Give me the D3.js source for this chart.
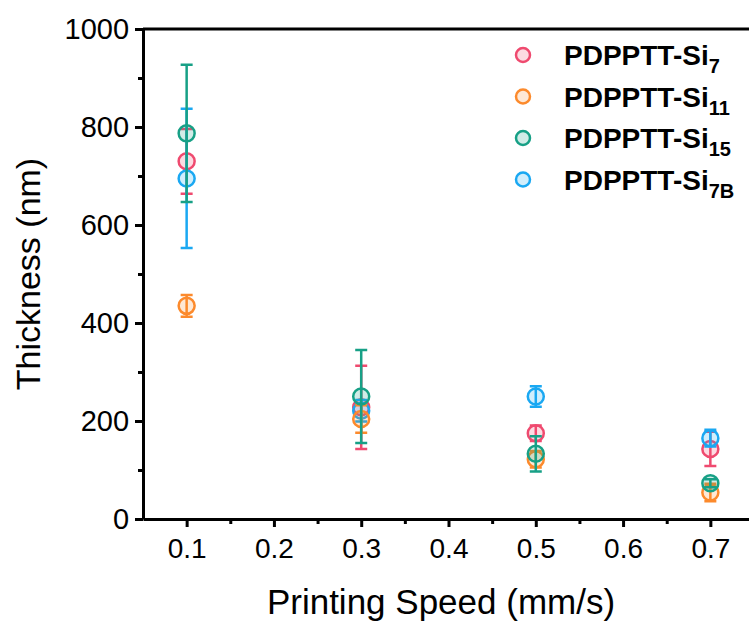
<!DOCTYPE html>
<html>
<head>
<meta charset="utf-8">
<script src="https://cdn.jsdelivr.net/npm/d3@7"></script>
<style>
  body { margin: 0; background: #fff; }
  svg { display: block; }
  text { font-family: "Liberation Sans", Arial, sans-serif; }
</style>
</head>
<body>
<div id="container"></div>
<script>
var speeds = [0.1, 0.3, 0.5, 0.7];
var si7 = [730, 228, 175, 143],  si7Err = [66, 85, 16, 35];
var si11 = [435, 204, 122, 54],  si11Err = [22, 28, 17, 18];
var si15 = [787, 250, 133, 73],  si15Err = [140, 95, 36, 8];
var si7B = [695, 221, 250, 165], si7BErr = [142, 22, 21, 17];
var yTicks = [0, 200, 400, 600, 800, 1000];
var xTicks = [0.1, 0.2, 0.3, 0.4, 0.5, 0.6, 0.7];

var series = [
  {name: 'PDPPTT-Si', sub: '7',  vals: si7,  err: si7Err,  color: '#ef4a6f'},
  {name: 'PDPPTT-Si', sub: '11', vals: si11, err: si11Err, color: '#fc8a2c'},
  {name: 'PDPPTT-Si', sub: '15', vals: si15, err: si15Err, color: '#17a086'},
  {name: 'PDPPTT-Si', sub: '7B', vals: si7B, err: si7BErr, color: '#1aa8f2'}
];
var drawOrder = [0, 3, 1, 2];

var W = 749, H = 626,
    margin = {top: 29, left: 143, bottom: 107};

var svg = d3.select('#container').append('svg')
    .attr('width', W).attr('height', H);

var x = d3.scaleLinear().domain([0.05, 0.75]).range([margin.left, margin.left + 611]);
var y = d3.scaleLinear().domain([0, 1000]).range([H - margin.bottom, margin.top]);

/* axes */
var xAxis = svg.append('g').attr('transform', `translate(0,${y(0)})`)
    .call(d3.axisBottom(x).tickValues(xTicks).tickFormat(d3.format('.1f')).tickSize(8).tickSizeOuter(0));
svg.append('g').attr('transform', `translate(0,${y(0)})`)
    .call(d3.axisBottom(x).tickValues(d3.range(0.15, 0.75, 0.1)).tickFormat('').tickSize(5).tickSizeOuter(0))
    .select('.domain').remove();
var yAxis = svg.append('g').attr('transform', `translate(${x(0.05)},0)`)
    .call(d3.axisLeft(y).tickValues(yTicks).tickFormat(d3.format('d')).tickSize(8).tickSizeOuter(0));
svg.append('g').attr('transform', `translate(${x(0.05)},0)`)
    .call(d3.axisLeft(y).tickValues(d3.range(100, 1000, 200)).tickFormat('').tickSize(5).tickSizeOuter(0))
    .select('.domain').remove();
svg.selectAll('.domain, .tick line').attr('stroke', '#000').attr('stroke-width', 3);
xAxis.selectAll('text').attr('font-size', 28).attr('dy', '1.0em').attr('fill', '#000');
yAxis.selectAll('text').attr('font-size', 29).attr('dx', '-0.1em').attr('fill', '#000');

// top frame line
svg.append('line')
    .attr('x1', x(0.05)).attr('x2', W).attr('y1', y(1000)).attr('y2', y(1000))
    .attr('stroke', '#000').attr('stroke-width', 3);

/* axis titles */
svg.append('text')
    .attr('x', 441).attr('y', 614).attr('text-anchor', 'middle')
    .attr('font-size', 35).text('Printing Speed (mm/s)');
svg.append('text')
    .attr('transform', `translate(40,${(y(0) + y(1000)) / 2}) rotate(-90)`)
    .attr('text-anchor', 'middle').attr('font-size', 34).text('Thickness (nm)');

/* error bars + markers */
var capW = 6;
drawOrder.forEach(function(si) {
  var s = series[si];
  var g = svg.append('g');
  var pts = speeds.map((sp, i) => ({x: sp, v: s.vals[i], e: s.err[i]}));
  g.selectAll('.bar').data(pts).enter().append('path')
      .attr('d', d => `M${x(d.x)},${y(d.v + d.e)}V${y(d.v - d.e)}` +
        `M${x(d.x) - capW},${y(d.v + d.e)}H${x(d.x) + capW}` +
        `M${x(d.x) - capW},${y(d.v - d.e)}H${x(d.x) + capW}`)
      .attr('stroke', s.color).attr('stroke-width', 2.5).attr('fill', 'none');
  g.selectAll('.pt').data(pts).enter().append('circle')
      .attr('cx', d => x(d.x)).attr('cy', d => y(d.v)).attr('r', 8)
      .attr('fill', s.color).attr('fill-opacity', 0.2)
      .attr('stroke', s.color).attr('stroke-width', 2.5);
});

/* legend */
var legend = svg.append('g').selectAll('g').data(series).enter().append('g')
    .attr('transform', (d, i) => `translate(523,${55 + i * 41.5})`);
legend.append('circle').attr('r', 7)
    .attr('fill', d => d.color).attr('fill-opacity', 0.2)
    .attr('stroke', d => d.color).attr('stroke-width', 2.5);
var lt = legend.append('text').attr('x', 41).attr('y', 10)
    .attr('font-size', 28).attr('font-weight', 'bold');
lt.append('tspan').text(d => d.name);
lt.append('tspan').attr('dy', 8).attr('font-size', 20).text(d => d.sub);
</script>
</body>
</html>
